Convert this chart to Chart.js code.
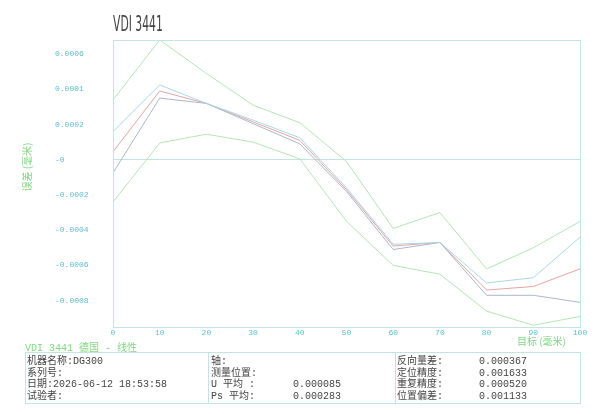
<!DOCTYPE html>
<html>
<head>
<meta charset="utf-8">
<script src="https://cdn.jsdelivr.net/npm/chart.js@4"></script>
<style>
  html, body { margin: 0; padding: 0; background: #fff; }
  #wrap { position: relative; width: 600px; height: 414px; overflow: hidden; }
  #chart { position: absolute; left: 0; top: 0; }
  #title { position: absolute; left: 113px; top: 11px; font: 15px 'Liberation Sans Narrow', 'DejaVu Sans Condensed', sans-serif; color: #444; transform: scale(0.8, 1.45); transform-origin: left top; white-space: pre; }
  #sub { position: absolute; left: 25px; top: 339px; font: 10px 'Liberation Mono', 'Noto Sans CJK SC', monospace; color: #7fd77f; white-space: pre; }
  #info { position: absolute; left: 25px; top: 352px; width: 554px; height: 50px; border: 1px solid #c4e3e3; }
  .col { position: absolute; top: 3px; font: 10px/11.5px 'Liberation Mono', 'Noto Sans CJK SC', monospace; color: #444; white-space: pre; }
  .div { position: absolute; top: 0; bottom: 0; width: 0; border-left: 1px solid #c4e3e3; }
</style>
</head>
<body>
<div id="wrap">
  <canvas id="chart" width="600" height="414"></canvas>
  <div id="title">VDI 3441</div>
  <div id="sub">VDI 3441 德国 - 线性</div>
  <div id="info">
    <div class="col" style="left:1px">机器名称:DG300
系列号:
日期:2026-06-12 18:53:58
试验者:</div>
    <div class="div" style="left:182px"></div>
    <div class="col" style="left:185px">轴:
测量位置:
U 平均 :
Ps 平均:</div>
    <div class="col" style="left:267px">

0.000085
0.000283</div>
    <div class="div" style="left:369px"></div>
    <div class="col" style="left:371px">反向量差:
定位精度:
重复精度:
位置偏差:</div>
    <div class="col" style="left:453px">0.000367
0.001633
0.000520
0.001133</div>
  </div>
</div>
<script>
// target positions (mm)
var targets = ['0', '10', '20', '30', '40', '50', '60', '70', '80', '90', '100'];

// deviations (mm)
var upperLimit   = [0.00034, 0.00068, 0.00049, 0.00031, 0.00021, -0.00001, -0.00039, -0.00030, -0.00062, -0.00050, -0.00035];
var forwardMean  = [0.00016, 0.000425, 0.00032, 0.000225, 0.000125, -0.00016, -0.00048, -0.00047, -0.00070, -0.00067, -0.00044];
var meanDev      = [0.000045, 0.00039, 0.00032, 0.000215, 0.00011, -0.00017, -0.00049, -0.00047, -0.00074, -0.00072, -0.00062];
var backwardMean = [-0.000075, 0.00035, 0.00032, 0.000205, 0.00009, -0.00018, -0.00051, -0.00047, -0.00077, -0.00077, -0.00081];
var lowerLimit   = [-0.00024, 0.000095, 0.000145, 0.0001, 0.000005, -0.00035, -0.00060, -0.00065, -0.00086, -0.00094, -0.00089];

var yTickValues = [0.0006, 0.0004, 0.0002, 0, -0.0002, -0.0004, -0.0006, -0.0008];
var yTickLabels = ['0.0006', '0.0001', '0.0002', '-0', '-0.0002', '-0.0004', '-0.0006', '-0.0008'];

var frameColor = '#c4e3e3';
var tickColor = '#5bbfcc';
var titleGreen = '#7fd77f';

var frame = {
    id: 'frame',
    afterDraw: function (chart) {
        var ctx = chart.ctx, a = chart.chartArea;
        ctx.save();
        ctx.strokeStyle = frameColor;
        ctx.lineWidth = 1;
        ctx.strokeRect(Math.round(a.left) + 0.5, Math.round(a.top) + 0.5,
            Math.round(a.right - a.left), Math.round(a.bottom - a.top));

        ctx.fillStyle = titleGreen;
        ctx.font = '10px "Noto Sans CJK SC"';
        ctx.textBaseline = 'middle';
        ctx.textAlign = 'right';
        ctx.fillText('目标 (毫米)', a.right - 14, a.bottom + 14);

        ctx.translate(27, a.top + 127);
        ctx.rotate(-Math.PI / 2);
        ctx.textAlign = 'center';
        ctx.fillText('误差 (毫米)', 0, 0);
        ctx.restore();
    }
};

function line(data, color) {
    return {
        data: data,
        borderColor: color,
        borderWidth: 1,
        pointRadius: 0,
        tension: 0,
        fill: false
    };
}

new Chart(document.getElementById('chart').getContext('2d'), {
    type: 'line',
    data: {
        labels: targets,
        datasets: [
            line(upperLimit, '#b4e6b4'),
            line(lowerLimit, '#b4e6b4'),
            line(forwardMean, '#a9d9e2'),
            line(backwardMean, '#aeb6c8'),
            line(meanDev, '#e6a4a4')
        ]
    },
    options: {
        responsive: false,
        animation: false,
        layout: { padding: { left: 55, top: 40, right: 20, bottom: 67 } },
        plugins: {
            legend: { display: false },
            tooltip: { enabled: false }
        },
        scales: {
            x: {
                offset: false,
                border: { display: false },
                grid: { display: false, drawTicks: false },
                ticks: {
                    color: tickColor,
                    font: { family: 'Liberation Mono', size: 8 },
                    padding: 1,
                    maxRotation: 0,
                    autoSkip: false
                },
                afterFit: function (s) { s.height = 20; }
            },
            y: {
                min: -0.00095,
                max: 0.00068,
                border: { display: false },
                grid: {
                    drawTicks: false,
                    color: function (c) { return c.tick && c.tick.value === 0 ? frameColor : 'rgba(0,0,0,0)'; }
                },
                afterBuildTicks: function (s) {
                    s.ticks = yTickValues.map(function (v) { return { value: v }; });
                },
                ticks: {
                    crossAlign: 'far',
                    autoSkip: false,
                    color: tickColor,
                    font: { family: 'Liberation Mono', size: 8 },
                    callback: function (v, i) { return yTickLabels[i]; }
                },
                afterFit: function (s) { s.width = 58; }
            }
        }
    },
    plugins: [frame]
});
</script>
</body>
</html>
